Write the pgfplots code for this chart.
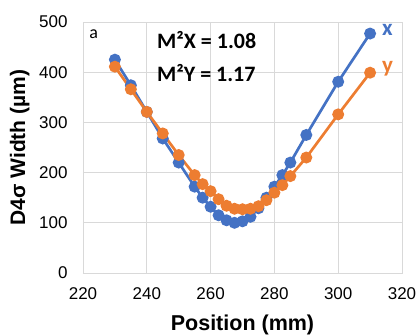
\documentclass[border=0pt]{standalone}
\usepackage{fontspec}
\setmainfont{Liberation Sans}
\newfontfamily\carlito{Carlito}
\usepackage{pgfplots}
\pgfplotsset{compat=1.18}
\definecolor{cblue}{HTML}{4472C4}
\definecolor{corange}{HTML}{ED7D31}
\definecolor{cgrid}{HTML}{D9D9D9}
\begin{document}
\begin{tikzpicture}
\begin{axis}[
  name=ax,
  scale only axis,
  width=319bp, height=251bp,
  xmin=220, xmax=320, ymin=0, ymax=500,
  xtick={220,240,...,320}, ytick={0,100,...,500},
  grid=major,
  major grid style={draw=cgrid, line width=0.8pt},
  axis line style={draw=cgrid, line width=0.8pt},
  major tick length=0pt,
  /pgf/number format/assume math mode=true,
  ticklabel style={font=\fontsize{17bp}{20bp}\selectfont},
  yticklabel style={xshift=-12bp},
  xticklabel style={yshift=-11bp},
  every axis x label/.style={at={(axis description cs:0.5,-0.231)}, anchor=base, font=\bfseries\fontsize{21.5bp}{24bp}\selectfont},
  every axis y label/.style={at={(axis description cs:-0.1818,0.5)}, rotate=90, anchor=base, font=\bfseries\fontsize{21bp}{24bp}\selectfont},
  xlabel={Position (mm)},
  ylabel={D4σ Width (µm)},
  clip=false,
]
\addplot[cblue, line width=2.7pt, mark=*, mark size=4.6pt, mark options={fill=cblue, draw=cblue}] coordinates {
(230,425) (235,374) (240,321) (245,268) (250,220) (255,172) (257.5,150) (260,132) (262.5,115) (265,105) (267.5,100) (270,103) (272.5,112) (275,129) (277.5,150) (280,172) (282.5,195) (285,220) (290,275) (300,381) (310,477)
};
\addplot[corange, line width=2.7pt, mark=*, mark size=4.6pt, mark options={fill=corange, draw=corange}] coordinates {
(230,411) (235,366) (240,321) (245,278) (250,235) (255,195) (257.5,177) (260,163) (262.5,147) (265,134) (267.5,128) (270,127) (272.5,128) (275,133) (277.5,145) (280,160) (282.5,175) (285,193) (290,230) (300,316) (310,399)
};
\node[anchor=base west, inner sep=0pt, font=\carlito\bfseries\fontsize{22bp}{26bp}\selectfont] at (axis description cs:0.232,0.896) {M²X = 1.08};
\node[anchor=base west, inner sep=0pt, font=\carlito\bfseries\fontsize{22bp}{26bp}\selectfont] at (axis description cs:0.232,0.761) {M²Y = 1.17};
\node[anchor=base west, inner sep=0pt, font=\carlito\fontsize{18bp}{20bp}\selectfont] at (axis description cs:0.019,0.936) {a};
\node[anchor=base west, inner sep=0pt, text=cblue, font=\carlito\bfseries\fontsize{23bp}{26bp}\selectfont] at (axis description cs:0.937,0.948) {x};
\node[anchor=base west, inner sep=0pt, text=corange, font=\carlito\bfseries\fontsize{23bp}{26bp}\selectfont] at (axis description cs:0.937,0.797) {y};
\end{axis}
\pgfresetboundingbox
\path[use as bounding box] ([shift={(-83bp,-62bp)}]ax.south west) rectangle ([shift={(17bp,22bp)}]ax.north east);
\end{tikzpicture}
\end{document}
